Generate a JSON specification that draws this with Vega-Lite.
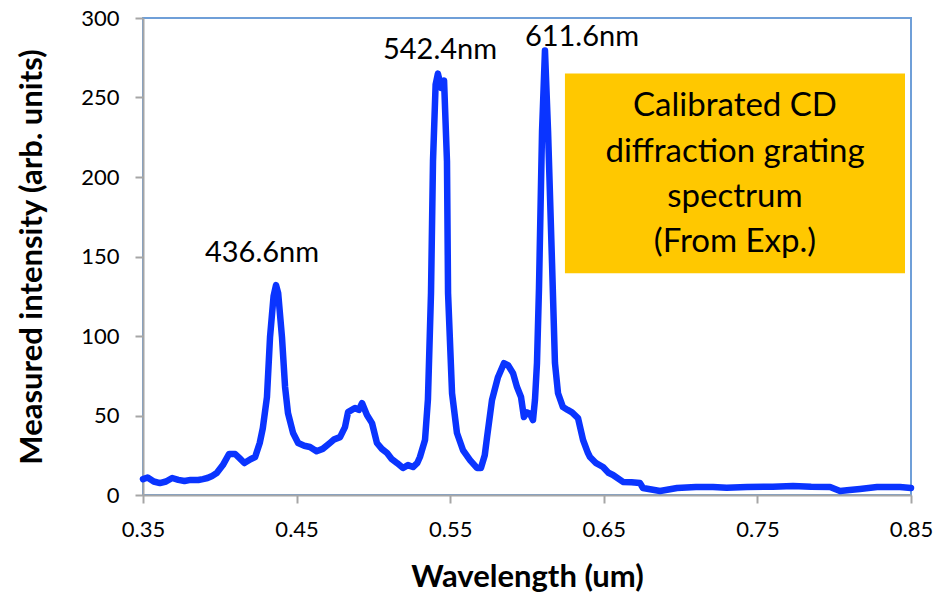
{
  "$schema": "https://vega.github.io/schema/vega-lite/v6.json",
  "width": 768,
  "height": 477,
  "autosize": {"type": "none"},
  "padding": {"left": 143, "top": 18, "right": 34, "bottom": 99},
  "background": "white",
  "config": {
    "font": "Lato",
    "view": {"stroke": "#6f9fd8", "strokeWidth": 2}
  },
  "datasets": {
    "spectrum": [
      {"w": 0.350, "i": 10}, {"w": 0.353, "i": 11}, {"w": 0.357, "i": 8.5}, {"w": 0.361, "i": 7.5},
      {"w": 0.365, "i": 8.5}, {"w": 0.369, "i": 10.7}, {"w": 0.373, "i": 9.5}, {"w": 0.377, "i": 8.8},
      {"w": 0.381, "i": 9.5}, {"w": 0.386, "i": 9.4}, {"w": 0.389, "i": 10}, {"w": 0.392, "i": 10.7},
      {"w": 0.395, "i": 12}, {"w": 0.398, "i": 13.8}, {"w": 0.402, "i": 18.8}, {"w": 0.406, "i": 25.8},
      {"w": 0.410, "i": 25.8}, {"w": 0.413, "i": 23}, {"w": 0.416, "i": 20.1}, {"w": 0.420, "i": 22.5},
      {"w": 0.423, "i": 23.9}, {"w": 0.426, "i": 32.7}, {"w": 0.428, "i": 42}, {"w": 0.4307, "i": 61.6},
      {"w": 0.4327, "i": 99.3}, {"w": 0.435, "i": 125}, {"w": 0.4366, "i": 132}, {"w": 0.438, "i": 127},
      {"w": 0.4405, "i": 99}, {"w": 0.4425, "i": 67.9}, {"w": 0.4444, "i": 51.5}, {"w": 0.4477, "i": 39},
      {"w": 0.451, "i": 32.7}, {"w": 0.455, "i": 31}, {"w": 0.4587, "i": 30.2}, {"w": 0.463, "i": 27.5},
      {"w": 0.467, "i": 29}, {"w": 0.4717, "i": 32.7}, {"w": 0.4745, "i": 35}, {"w": 0.4783, "i": 36.4},
      {"w": 0.4815, "i": 42.7}, {"w": 0.4835, "i": 52.1}, {"w": 0.488, "i": 54.7}, {"w": 0.4905, "i": 53.5},
      {"w": 0.4926, "i": 57.8}, {"w": 0.4958, "i": 50.3}, {"w": 0.4991, "i": 45.2}, {"w": 0.5023, "i": 32.7},
      {"w": 0.5055, "i": 29}, {"w": 0.5089, "i": 26.4}, {"w": 0.512, "i": 22.5}, {"w": 0.5154, "i": 20.1},
      {"w": 0.5193, "i": 17}, {"w": 0.5225, "i": 18.8}, {"w": 0.5258, "i": 17.6}, {"w": 0.5285, "i": 20},
      {"w": 0.5303, "i": 23.9}, {"w": 0.5336, "i": 34.6}, {"w": 0.5355, "i": 60}, {"w": 0.5375, "i": 127},
      {"w": 0.5388, "i": 210}, {"w": 0.5405, "i": 258}, {"w": 0.542, "i": 265}, {"w": 0.5442, "i": 256},
      {"w": 0.546, "i": 260.7}, {"w": 0.5479, "i": 210}, {"w": 0.5486, "i": 127}, {"w": 0.5512, "i": 64},
      {"w": 0.5544, "i": 39}, {"w": 0.5583, "i": 28.3}, {"w": 0.5629, "i": 22}, {"w": 0.5674, "i": 17},
      {"w": 0.5700, "i": 17}, {"w": 0.5725, "i": 25}, {"w": 0.574, "i": 36.4}, {"w": 0.5772, "i": 59.7},
      {"w": 0.5811, "i": 74.1}, {"w": 0.585, "i": 82.9}, {"w": 0.5876, "i": 81.7}, {"w": 0.5909, "i": 76.6},
      {"w": 0.5935, "i": 67.9}, {"w": 0.5961, "i": 61.6}, {"w": 0.598, "i": 49}, {"w": 0.600, "i": 52},
      {"w": 0.602, "i": 51}, {"w": 0.6039, "i": 47.1}, {"w": 0.6052, "i": 60}, {"w": 0.6065, "i": 83},
      {"w": 0.6078, "i": 130}, {"w": 0.6098, "i": 229}, {"w": 0.6117, "i": 279.6}, {"w": 0.6137, "i": 229},
      {"w": 0.6163, "i": 145.8}, {"w": 0.6182, "i": 83}, {"w": 0.6202, "i": 64}, {"w": 0.6234, "i": 55.3},
      {"w": 0.6265, "i": 53.5}, {"w": 0.6293, "i": 52}, {"w": 0.6332, "i": 48.4}, {"w": 0.6365, "i": 34.6},
      {"w": 0.6397, "i": 26.4}, {"w": 0.641, "i": 23.9}, {"w": 0.645, "i": 20}, {"w": 0.6495, "i": 17.6},
      {"w": 0.653, "i": 14}, {"w": 0.656, "i": 12.6}, {"w": 0.6625, "i": 8.2}, {"w": 0.668, "i": 8},
      {"w": 0.6736, "i": 7.5}, {"w": 0.6755, "i": 4.4}, {"w": 0.6866, "i": 2.5}, {"w": 0.6977, "i": 4.4},
      {"w": 0.71, "i": 5}, {"w": 0.7211, "i": 5}, {"w": 0.73, "i": 4.5}, {"w": 0.7432, "i": 5},
      {"w": 0.76, "i": 5.2}, {"w": 0.7732, "i": 5.7}, {"w": 0.785, "i": 5.2}, {"w": 0.7973, "i": 5},
      {"w": 0.8038, "i": 2.5}, {"w": 0.81, "i": 3.2}, {"w": 0.8168, "i": 3.8}, {"w": 0.8279, "i": 5},
      {"w": 0.835, "i": 5}, {"w": 0.8428, "i": 5}, {"w": 0.85, "i": 4.4}
    ],
    "peaks": [
      {"w": 0.4275, "i": 152, "label": "436.6nm"},
      {"w": 0.5434, "i": 279.6, "label": "542.4nm"},
      {"w": 0.6358, "i": 287.8, "label": "611.6nm"}
    ],
    "box": [
      {"w1": 0.6247, "w2": 0.8461, "i1": 139.5, "i2": 265.1}
    ],
    "boxtext": [
      {"w": 0.7354, "i": 244.5, "label": "Calibrated CD"},
      {"w": 0.7354, "i": 215.8, "label": "diffraction grating"},
      {"w": 0.7354, "i": 187.5, "label": "spectrum"},
      {"w": 0.7354, "i": 159.2, "label": "(From Exp.)"}
    ]
  },
  "layer": [
    {
      "data": {"name": "box"},
      "mark": {"type": "rect", "color": "#ffc800"},
      "encoding": {
        "x": {"field": "w1", "type": "quantitative"},
        "x2": {"field": "w2"},
        "y": {"field": "i1", "type": "quantitative"},
        "y2": {"field": "i2"}
      }
    },
    {
      "data": {"name": "spectrum"},
      "mark": {"type": "line", "color": "#0a34ff", "strokeWidth": 6.5, "strokeCap": "round", "strokeJoin": "round"},
      "encoding": {
        "x": {
          "field": "w", "type": "quantitative",
          "scale": {"domain": [0.35, 0.85], "nice": false, "zero": false},
          "axis": {
            "title": "Wavelength (um)",
            "values": [0.35, 0.45, 0.55, 0.65, 0.75, 0.85],
            "format": ".2f",
            "grid": false,
            "labelFlush": false,
            "domainColor": "#a6a6a6", "domainWidth": 2,
            "tickColor": "#a6a6a6", "tickWidth": 2, "tickSize": 8,
            "labelFontSize": 22, "labelColor": "#000000", "labelPadding": 16,
            "titleFontSize": 31, "titleFontWeight": "bold", "titleColor": "#000000", "titlePadding": 22
          }
        },
        "y": {
          "field": "i", "type": "quantitative",
          "scale": {"domain": [0, 300], "nice": false},
          "axis": {
            "title": "Measured intensity (arb. units)",
            "values": [0, 50, 100, 150, 200, 250, 300],
            "grid": false,
            "labelFlush": false,
            "domainColor": "#a6a6a6", "domainWidth": 2,
            "tickColor": "#a6a6a6", "tickWidth": 2, "tickSize": 8,
            "labelFontSize": 22, "labelColor": "#000000", "labelPadding": 16,
            "titleFontSize": 31, "titleFontWeight": "bold", "titleColor": "#000000", "titlePadding": 32
          }
        }
      }
    },
    {
      "data": {"name": "peaks"},
      "mark": {"type": "text", "fontSize": 29, "color": "#000000", "align": "center", "baseline": "middle"},
      "encoding": {
        "x": {"field": "w", "type": "quantitative"},
        "y": {"field": "i", "type": "quantitative"},
        "text": {"field": "label"}
      }
    },
    {
      "data": {"name": "boxtext"},
      "mark": {"type": "text", "fontSize": 33, "color": "#000000", "align": "center", "baseline": "middle"},
      "encoding": {
        "x": {"field": "w", "type": "quantitative"},
        "y": {"field": "i", "type": "quantitative"},
        "text": {"field": "label"}
      }
    }
  ]
}
